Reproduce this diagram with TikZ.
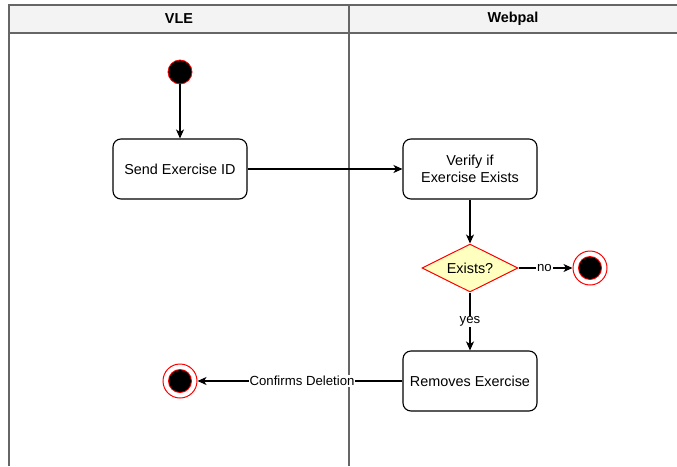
\documentclass[tikz,border=0pt]{standalone}
\usepackage{fontspec}
\setmainfont{Liberation Sans}
\usetikzlibrary{arrows.meta,shapes.geometric}
\definecolor{poolline}{HTML}{666666}
\definecolor{headfill}{HTML}{F3F3F3}
\definecolor{decfill}{HTML}{FFFFC0}
\begin{document}
\begin{tikzpicture}[x=1pt,y=-1pt,
  every node/.style={font=\fontsize{14.4}{16.5}\selectfont},
  action/.style={draw, line width=1.1pt, rounded corners=8pt, minimum width=134pt, minimum height=60pt, align=center, inner sep=2pt},
  decision/.style={diamond, draw=red, fill=decfill, line width=1pt, minimum width=96pt, minimum height=48pt, inner sep=0pt, aspect=2},
  startdot/.style={circle, draw=red, fill=black, line width=0.8pt, minimum size=24pt, inner sep=0pt},
  enddot/.style={circle, draw=red, fill=white, line width=1pt, minimum size=34pt, inner sep=0pt,
    path picture={\fill[red] (path picture bounding box.center) circle (12pt);
                  \fill[black] (path picture bounding box.center) circle (11pt);}},
  flow/.style={draw, line width=1.1pt, -{Stealth[length=9pt,width=8pt,inset=2.5pt]}},
  elabel/.style={font=\fontsize{13.2}{15}\selectfont, fill=white, inner sep=1pt},
  lane/.style={draw=poolline, line width=1.4pt},
  laneTitle/.style={font=\bfseries\fontsize{14.4}{16.5}\selectfont}]
\useasboundingbox (0,0) rectangle (677,466);

% swimlane pool
\fill[headfill] (9,5) rectangle (677,33);
\draw[lane] (677,5) -- (9,5) -- (9,466);
\draw[lane] (9,33) -- (677,33);
\draw[lane] (349,5) -- (349,466);
\node[laneTitle] (vle) at (179,19) {VLE};
\node[laneTitle] (webpal) at (513,19) {Webpal};

% activity nodes
\node[startdot] (start) at (180,72) {};
\node[action] (send) at (180,169) {Send Exercise ID};
\node[action] (verify) at (470,169) {Verify if\\Exercise Exists};
\node[decision] (exists) at (470,268) {Exists?};
\node[enddot] (endno) at (590,268) {};
\node[action] (remove) at (470,381) {Removes Exercise};
\node[enddot] (enddone) at (180,381) {};

% flows
\draw[flow] (start) -- (send);
\draw[flow] (send) -- (verify);
\draw[flow] (verify) -- (exists);
\draw[flow] (exists) -- node[elabel, pos=0.48] {no} (endno);
\draw[flow] (exists) -- node[elabel, pos=0.5] {yes} (remove);
\draw[flow] (remove) -- node[elabel, pos=0.49] {Confirms Deletion} (enddone);
\end{tikzpicture}
\end{document}
